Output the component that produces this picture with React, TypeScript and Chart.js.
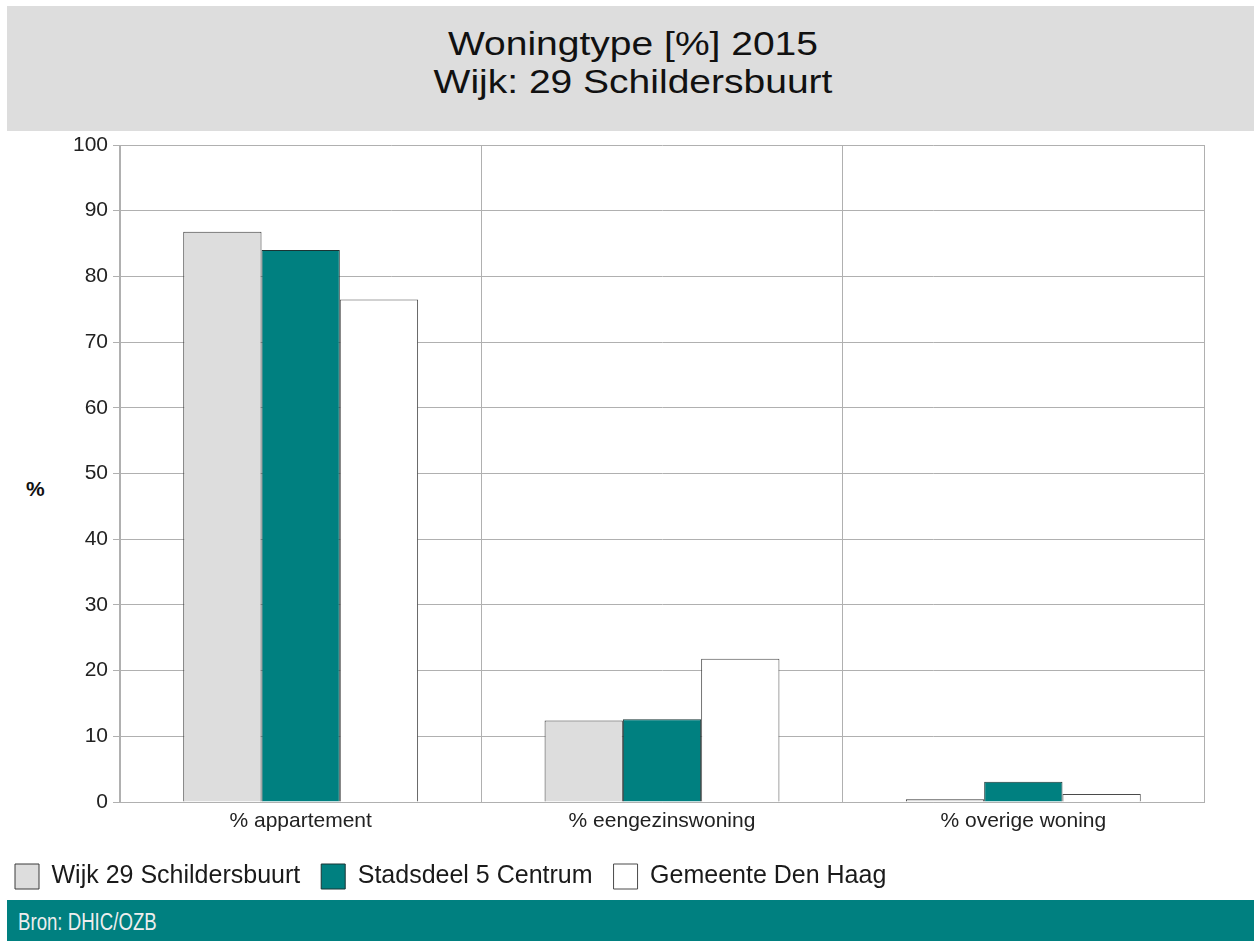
import React, { useEffect, useRef } from "react";
import { Chart, registerables } from "chart.js";

Chart.register(...registerables);

const categories = ["% appartement", "% eengezinswoning", "% overige woning"];
const seriesNames = ["Wijk 29 Schildersbuurt", "Stadsdeel 5 Centrum", "Gemeente Den Haag"];
const wijkValues = [86.8, 12.4, 0.4];
const stadsdeelValues = [84.0, 12.6, 3.1];
const gemeenteValues = [76.5, 21.8, 1.2];
const yMin = 0;
const yMax = 100;
const yStep = 10;

const titleLines = ["Woningtype [%] 2015", "Wijk: 29 Schildersbuurt"];
const yAxisLabel = "%";
const sourceText = "Bron: DHIC/OZB";

const FONT = "'Liberation Sans', Arial, sans-serif";

export default function App() {
  const canvasRef = useRef<HTMLCanvasElement | null>(null);

  useEffect(() => {
    const canvas = canvasRef.current;
    if (!canvas) return;
    const chart = new Chart(canvas, {
      type: "bar",
      data: {
        labels: categories,
        datasets: [
          {
            label: seriesNames[0],
            data: wijkValues,
            backgroundColor: "#dddddd",
            borderColor: "#3a3a3a",
            borderWidth: 1,
          },
          {
            label: seriesNames[1],
            data: stadsdeelValues,
            backgroundColor: "#008080",
            borderColor: "#1a3535",
            borderWidth: 1,
          },
          {
            label: seriesNames[2],
            data: gemeenteValues,
            backgroundColor: "#ffffff",
            borderColor: "#4a4a4a",
            borderWidth: 1,
          },
        ],
      },
      options: {
        responsive: false,
        animation: false,
        devicePixelRatio: 1,
        layout: { padding: { left: 0, right: 50, top: 14, bottom: 1 } },
        datasets: {
          bar: { categoryPercentage: 0.65, barPercentage: 1.0 },
        },
        plugins: {
          title: { display: false },
          tooltip: { enabled: false },
          legend: {
            display: true,
            position: "bottom",
            align: "start",
            labels: {
              boxWidth: 24,
              boxHeight: 25,
              padding: 21,
              color: "#1a1a1a",
              font: { family: FONT, size: 25 },
            },
          },
        },
        scales: {
          x: {
            grid: {
              display: true,
              offset: true,
              color: "#b0b0b0",
              lineWidth: 1,
              drawTicks: false,
            },
            border: { display: true, color: "#b0b0b0", width: 1 },
            ticks: {
              color: "#222222",
              font: { family: FONT, size: 21 },
              padding: 7,
              maxRotation: 0,
            },
            afterFit: (scale: any) => {
              scale.height = 41;
              scale.paddingLeft = 0;
              scale.paddingRight = 0;
            },
          },
          y: {
            min: yMin,
            max: yMax,
            grid: {
              color: "#b0b0b0",
              lineWidth: 1,
              drawTicks: true,
              tickLength: 7,
            },
            border: { display: true, color: "#b0b0b0", width: 1 },
            ticks: {
              stepSize: yStep,
              color: "#222222",
              font: { family: FONT, size: 21 },
              padding: 5,
            },
            afterFit: (scale: any) => {
              scale.width = 126;
              scale.paddingTop = 0;
              scale.paddingBottom = 0;
            },
          },
        },
      },
    });
    return () => chart.destroy();
  }, []);

  return (
    <div
      style={{
        position: "absolute",
        left: 0,
        top: 0,
        width: 1254,
        height: 941,
        overflow: "hidden",
        background: "#ffffff",
      }}
    >
      <div
        style={{
          position: "absolute",
          left: 7,
          top: 6,
          width: 1247,
          height: 125,
          background: "#dddddd",
        }}
      />
      <div
        style={{
          position: "absolute",
          left: 0,
          top: 24.7,
          width: 1266,
          textAlign: "center",
          fontFamily: FONT,
          fontSize: 32.5,
          lineHeight: "38px",
          color: "#111111",
          transform: "scaleX(1.2)",
          transformOrigin: "633px 0px",
          whiteSpace: "nowrap",
        }}
      >
        <div>{titleLines[0]}</div>
        <div>{titleLines[1]}</div>
      </div>
      <div
        style={{
          position: "absolute",
          left: 26,
          top: 478,
          fontFamily: FONT,
          fontWeight: "bold",
          fontSize: 21,
          lineHeight: "22px",
          color: "#111111",
        }}
      >
        {yAxisLabel}
      </div>
      <canvas
        ref={canvasRef}
        width={1260}
        height={769}
        style={{ position: "absolute", left: -6, top: 131, width: 1260, height: 769 }}
      />
      <div
        style={{
          position: "absolute",
          left: 7,
          top: 900,
          width: 1247,
          height: 41,
          background: "#008080",
        }}
      />
      <div
        style={{
          position: "absolute",
          left: 18,
          top: 901.5,
          height: 41,
          fontFamily: FONT,
          fontSize: 23,
          lineHeight: "41px",
          color: "#eeeeee",
          whiteSpace: "nowrap",
          transform: "scaleX(0.81)",
          transformOrigin: "0px 0px",
        }}
      >
        {sourceText}
      </div>
    </div>
  );
}
